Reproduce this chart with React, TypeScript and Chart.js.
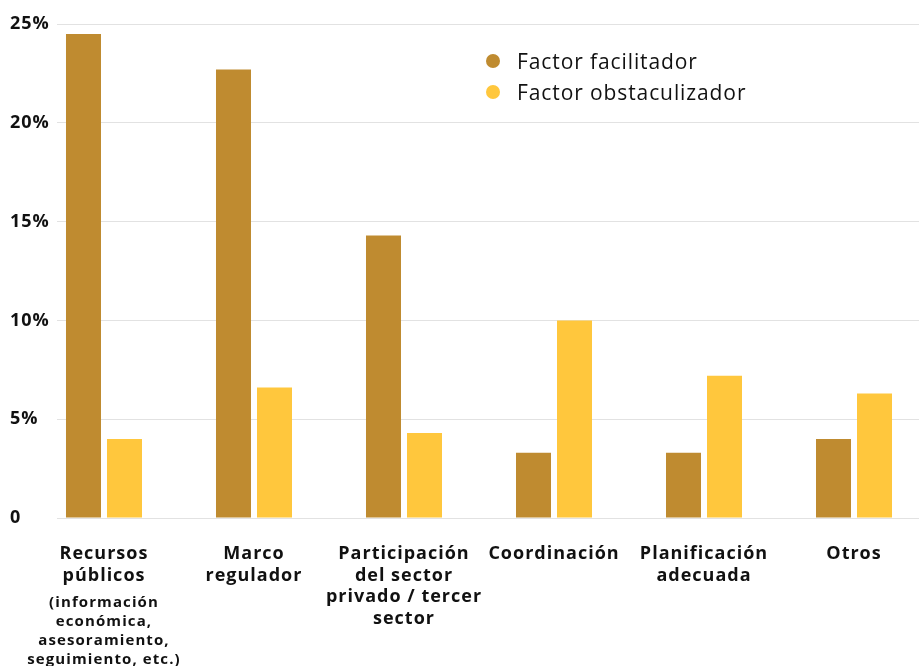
import React, { useEffect, useRef } from "react";
import { Chart, registerables } from "chart.js";

Chart.register(...registerables);

const categories: string[][] = [
  ["Recursos", "públicos"],
  ["Marco", "regulador"],
  ["Participación", "del sector", "privado / tercer", "sector"],
  ["Coordinación"],
  ["Planificación", "adecuada"],
  ["Otros"],
];
const firstCategoryNote = ["(información", "económica,", "asesoramiento,", "seguimiento, etc.)"];
const seriesNames = ["Factor facilitador", "Factor obstaculizador"];
const facilitador = [24.5, 22.7, 14.3, 3.3, 3.3, 4.0];
const obstaculizador = [4.0, 6.6, 4.3, 10.0, 7.2, 6.3];
const yTicks = [0, 5, 10, 15, 20, 25];
const seriesColors = ["#BF8B30", "#FFC73D"];

const FONT = "'Open Sans', 'Noto Sans', 'DejaVu Sans', sans-serif";
const TEXT = "#111111";

const spacingPlugin = {
  id: "letterSpacing",
  beforeDraw(chart: any) {
    chart.ctx.letterSpacing = "1px";
  },
};

const notePlugin = {
  id: "firstCategoryNote",
  afterDraw(chart: any) {
    const xs = chart.scales.x;
    const cx = xs.getPixelForValue(0);
    const ctx = chart.ctx;
    ctx.save();
    ctx.letterSpacing = "1.1px";
    ctx.font = `700 15px ${FONT}`;
    ctx.fillStyle = TEXT;
    ctx.textAlign = "center";
    ctx.textBaseline = "middle";
    firstCategoryNote.forEach((t, i) => ctx.fillText(t, cx, xs.top + 85 + i * 19));
    ctx.restore();
  },
};

export default function App() {
  const ref = useRef<HTMLCanvasElement>(null);

  useEffect(() => {
    if (!ref.current) return;
    const series = [facilitador, obstaculizador];
    const chart = new Chart(ref.current, {
      type: "bar",
      data: {
        datasets: series.map((vals, s) => ({
          label: seriesNames[s],
          data: vals.map((v, i) => ({ x: i, y: v })),
          backgroundColor: seriesColors[s],
          borderWidth: 0,
          categoryPercentage: 0.5467,
          barPercentage: 0.8537,
        })),
      },
      options: {
        animation: false,
        responsive: true,
        maintainAspectRatio: false,
        layout: { padding: { left: 10, top: 24, right: 0, bottom: 0 } },
        plugins: { legend: { display: false }, tooltip: { enabled: false } },
        scales: {
          x: {
            type: "linear",
            offset: false,
            min: -0.3133,
            max: 5.4333,
            grid: { display: false, offset: false },
            border: { display: false },
            afterBuildTicks: (s: any) => {
              s.ticks = categories.map((_, i) => ({ value: i }));
            },
            afterFit: (s: any) => {
              s.height = 148;
            },
            ticks: {
              autoSkip: false,
              maxRotation: 0,
              padding: 17,
              color: TEXT,
              font: { family: FONT, size: 18, weight: "bold", lineHeight: 1.2 },
              callback: (v: any) => categories[v as number] ?? "",
            },
          },
          y: {
            min: 0,
            max: 25,
            grid: { color: "#e2e2e2", lineWidth: 1, drawTicks: false },
            border: { display: false },
            afterBuildTicks: (s: any) => {
              s.ticks = yTicks.map((v) => ({ value: v }));
            },
            afterFit: (s: any) => {
              s.width = 47;
            },
            ticks: {
              crossAlign: "far",
              color: TEXT,
              font: { family: FONT, size: 18, weight: "bold" },
              callback: (v: any) => (v === 0 ? "0" : `${v}%`),
            },
          },
        },
      },
      plugins: [spacingPlugin, notePlugin],
    } as any);
    return () => chart.destroy();
  }, []);

  return (
    <div style={{ position: "absolute", left: 0, top: 0, width: 919, height: 666, overflow: "hidden", background: "#fff" }}>
      <canvas ref={ref} />
      <div style={{ position: "absolute", left: 486, top: 45, fontFamily: FONT, fontSize: 21, letterSpacing: "0.9px", color: TEXT }}>
        {seriesNames.map((n, i) => (
          <div key={n} style={{ display: "flex", alignItems: "center", height: 31 }}>
            <span style={{ width: 14, height: 14, borderRadius: 7, background: seriesColors[i], marginRight: 17, display: "inline-block" }} />
            <span>{n}</span>
          </div>
        ))}
      </div>
    </div>
  );
}
